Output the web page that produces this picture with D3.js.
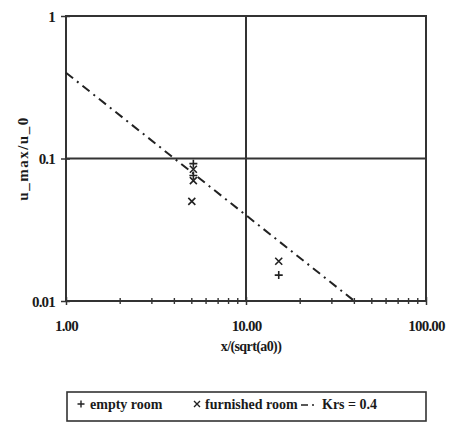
<!DOCTYPE html>
<html>
<head>
<meta charset="utf-8">
<script src="https://cdn.jsdelivr.net/npm/d3@7"></script>
<style>
  body { margin: 0; background: #fff; }
  svg text { font-family: "Liberation Serif", "Times New Roman", serif; font-weight: bold; fill: #1a1a1a; }
</style>
</head>
<body>
<div id="chart"></div>
<script>
  // data
  var emptyX = [5.1, 5.1, 15.2];
  var emptyY = [0.092, 0.076, 0.0152];
  var furnishedX = [5.1, 5.1, 5.0, 15.2];
  var furnishedY = [0.084, 0.07, 0.05, 0.019];
  var krsX = [1, 40];
  var krsY = [0.4, 0.01];
  var xTicks = [1, 10, 100];
  var xTickLabels = ['1.00', '10.00', '100.00'];
  var xMinor = [2, 3, 4, 5, 6, 7, 8, 9, 20, 30, 40, 50, 60, 70, 80, 90];
  var yTicks = [0.01, 0.1, 1];
  var yTickLabels = ['0.01', '0.1', '1'];

  var W = 454, H = 423;
  var ink = '#333';

  var svg = d3.select('#chart').append('svg')
    .attr('width', W)
    .attr('height', H);

  var x = d3.scaleLog().domain([1, 100]).range([66, 426]);
  var y = d3.scaleLog().domain([0.01, 1]).range([301, 16]);

  // frame
  svg.append('rect')
    .attr('x', x(1)).attr('y', y(1))
    .attr('width', x(100) - x(1)).attr('height', y(0.01) - y(1))
    .attr('fill', 'none').attr('stroke', ink).attr('stroke-width', 2);

  // major grid lines
  svg.append('line')
    .attr('x1', x(10)).attr('x2', x(10)).attr('y1', y(1)).attr('y2', y(0.01))
    .attr('stroke', ink).attr('stroke-width', 2);
  svg.append('line')
    .attr('x1', x(1)).attr('x2', x(100)).attr('y1', y(0.1)).attr('y2', y(0.1))
    .attr('stroke', ink).attr('stroke-width', 2);

  // bottom axis
  var xAxis = svg.append('g')
    .attr('transform', 'translate(0,' + y(0.01) + ')')
    .call(d3.axisBottom(x).tickValues(xTicks)
      .tickFormat(function (d, i) { return xTickLabels[i]; }));
  xAxis.select('.domain').remove();
  xAxis.selectAll('line').attr('y1', -4).attr('y2', 4).attr('stroke', ink).attr('stroke-width', 1.5);
  xAxis.selectAll('text').attr('y', 30).attr('dy', 0)
    .style('font-size', '15px').style('letter-spacing', '-0.8px');

  // minor ticks on the bottom axis
  svg.append('g').selectAll('line')
    .data(xMinor)
    .enter().append('line')
    .attr('x1', function (d) { return x(d); })
    .attr('x2', function (d) { return x(d); })
    .attr('y1', y(0.01) - 3).attr('y2', y(0.01) + 3)
    .attr('stroke', ink).attr('stroke-width', 1.4);

  // left axis
  var yAxis = svg.append('g')
    .attr('transform', 'translate(' + x(1) + ',0)')
    .call(d3.axisLeft(y).tickValues(yTicks)
      .tickFormat(function (d, i) { return yTickLabels[i]; }));
  yAxis.select('.domain').remove();
  yAxis.selectAll('line').attr('x1', -5).attr('x2', 4).attr('stroke', ink).attr('stroke-width', 1.5);
  yAxis.selectAll('text').attr('x', -11).attr('dy', '0.35em')
    .style('font-size', '15px').style('letter-spacing', '-0.8px');

  // axis titles
  svg.append('text')
    .attr('x', 251).attr('y', 351)
    .attr('text-anchor', 'middle')
    .style('font-size', '14px').style('letter-spacing', '-0.6px')
    .text('x/(sqrt(a0))');

  svg.append('text')
    .attr('transform', 'translate(28,' + y(0.1) + ') rotate(-90)')
    .attr('text-anchor', 'middle')
    .style('font-size', '15px').style('letter-spacing', '1.5px')
    .text('u_max/u_0');

  // Krs line
  var line = d3.line()
    .x(function (d) { return x(d[0]); })
    .y(function (d) { return y(d[1]); });

  svg.append('path')
    .datum(d3.zip(krsX, krsY))
    .attr('d', line)
    .attr('fill', 'none')
    .attr('stroke', '#222')
    .attr('stroke-width', 2)
    .attr('stroke-dasharray', '9,5,2,5');

  // markers
  var plus = function (s) { return 'M' + (-s) + ',0H' + s + 'M0,' + (-s) + 'V' + s; };
  var cross = function (s) { return 'M' + (-s) + ',' + (-s) + 'L' + s + ',' + s + 'M' + (-s) + ',' + s + 'L' + s + ',' + (-s); };

  svg.append('g').selectAll('path')
    .data(d3.zip(emptyX, emptyY))
    .enter().append('path')
    .attr('transform', function (d) { return 'translate(' + x(d[0]) + ',' + y(d[1]) + ')'; })
    .attr('d', plus(4))
    .attr('stroke', '#222').attr('stroke-width', 1.6).attr('fill', 'none');

  svg.append('g').selectAll('path')
    .data(d3.zip(furnishedX, furnishedY))
    .enter().append('path')
    .attr('transform', function (d) { return 'translate(' + x(d[0]) + ',' + y(d[1]) + ')'; })
    .attr('d', cross(3.5))
    .attr('stroke', '#222').attr('stroke-width', 1.6).attr('fill', 'none');

  // legend
  var legend = svg.append('g');
  legend.append('rect')
    .attr('x', 67).attr('y', 392)
    .attr('width', 359).attr('height', 29)
    .attr('fill', 'none').attr('stroke', ink).attr('stroke-width', 1.6);

  legend.append('path')
    .attr('transform', 'translate(81,404)')
    .attr('d', plus(3.5))
    .attr('stroke', '#222').attr('stroke-width', 1.4);
  legend.append('text')
    .attr('x', 90).attr('y', 409)
    .style('font-size', '14px')
    .text('empty room');

  legend.append('path')
    .attr('transform', 'translate(197,404)')
    .attr('d', cross(3))
    .attr('stroke', '#222').attr('stroke-width', 1.4);
  legend.append('text')
    .attr('x', 205).attr('y', 409)
    .style('font-size', '14px')
    .text('furnished room');

  legend.append('line')
    .attr('x1', 301).attr('x2', 318).attr('y1', 405).attr('y2', 405)
    .attr('stroke', '#222').attr('stroke-width', 1.6)
    .attr('stroke-dasharray', '7,4,2,4');
  legend.append('text')
    .attr('x', 322).attr('y', 409)
    .style('font-size', '14px')
    .text('Krs = 0.4');
</script>
</body>
</html>
